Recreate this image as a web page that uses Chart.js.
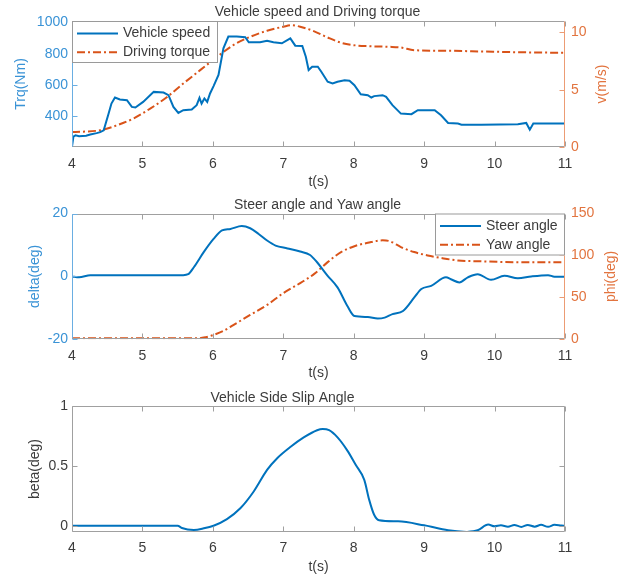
<!DOCTYPE html>
<html>
<head>
<meta charset="utf-8">
<script src="https://cdn.jsdelivr.net/npm/chart.js@4"></script>
<style>
  body { margin: 0; background: #fff; width: 635px; height: 578px; overflow: hidden; position: relative; }
  canvas { position: absolute; left: 0; }
</style>
</head>
<body>
<canvas id="c1" width="635" height="192" style="top:0"></canvas>
<canvas id="c2" width="635" height="192" style="top:192px"></canvas>
<canvas id="c3" width="635" height="194" style="top:384px"></canvas>
<script>
// ──────── DATA ────────
const xTicks = [4, 5, 6, 7, 8, 9, 10, 11];

// panel 1: Vehicle speed (left, Trq) and Driving torque (right, v)
const speedT = [4.0,4.02,4.05,4.1,4.2,4.26,4.35,4.4,4.45,4.52,4.56,4.61,4.68,4.78,4.85,4.9,
  5.01,5.16,5.3,5.37,5.44,5.51,5.58,5.7,5.77,5.81,5.84,5.88,5.92,5.96,
  6.01,6.08,6.15,6.22,6.34,6.46,6.51,6.67,6.77,6.86,6.98,
  7.1,7.17,7.27,7.32,7.36,7.41,7.49,7.54,7.63,7.7,7.77,7.87,7.94,
  8.01,8.1,8.2,8.25,8.29,8.41,8.46,8.55,8.67,8.82,8.91,
  9.15,9.24,9.34,9.48,9.53,9.81,10.33,10.45,10.5,10.55,11.0];
const speedV = [205,270,278,272,275,283,292,298,310,417,481,520,507,503,460,456,
  492,556,552,535,460,421,439,443,471,518,481,514,492,546,
  593,664,835,910,910,906,874,874,884,874,867,
  899,852,850,781,696,717,717,685,621,610,621,631,627,
  599,541,535,520,529,535,524,471,417,413,439,
  439,406,357,353,346,346,349,357,314,353,353];
const torqueT = [4.0,4.4,4.64,4.87,5.11,5.35,5.58,5.82,6.06,6.29,6.53,6.77,7.0,7.12,7.24,7.44,
  7.63,7.82,8.0,8.2,8.5,8.67,8.86,9.34,9.81,10.28,11.0];
const torqueV = [1.31,1.46,1.9,2.48,3.35,4.37,5.54,6.71,7.87,8.89,9.62,10.15,10.5,10.64,10.5,10.1,
  9.56,9.1,8.89,8.8,8.75,8.69,8.45,8.4,8.34,8.28,8.22];
const trqTicks = [400, 600, 800, 1000];
const velTicks = [0, 5, 10];

// panel 2: Steer angle (left) and Yaw angle (right)
const steerT = [4.0,4.1,4.26,5.58,5.65,5.73,5.87,6.01,6.13,6.25,6.41,6.53,6.65,6.77,6.89,
  7.06,7.24,7.38,7.44,7.48,7.63,7.77,7.91,8.01,8.2,8.34,8.44,8.55,8.7,8.86,8.96,
  9.1,9.31,9.38,9.5,9.62,9.76,9.95,10.14,10.33,10.52,10.76,10.85,11.0];
const steerV = [0,-0.3,0.4,0.4,0.7,2.9,7.7,11.9,14.6,15.1,16.0,15.3,13.5,11.4,9.8,
  8.9,7.9,6.8,5.5,4.5,0.2,-3.5,-9.4,-12.6,-12.9,-13.4,-13.1,-12.0,-11,-6.7,-4.0,
  -3.0,-0.3,-0.9,-1.9,-0.3,0.7,-1.1,0.2,-0.6,0,0.4,-0.1,-0.1];
const yawT = [4.0,5.8,5.9,6.01,6.15,6.29,6.53,6.77,7.0,7.24,7.44,7.63,7.82,8.01,8.2,8.41,8.51,
  8.67,8.86,9.05,9.24,9.48,9.81,10.28,11.0];
const yawV = [1.2,1.2,2.5,5.2,10,17,29,41,55,67,78,92,104,111,115,118,117,
  110,104,100,97,94,93,92,92];
const deltaTicks = [-20, 0, 20];
const phiTicks = [0, 50, 100, 150];

// panel 3: Vehicle side slip angle
const betaT = [4.0,5.5,5.56,5.73,5.87,6.01,6.2,6.39,6.58,6.77,6.91,7.1,7.29,7.48,7.56,7.65,7.77,7.91,
  8.03,8.15,8.22,8.29,8.36,8.63,9.0,9.34,9.6,9.76,9.91,
  10.0,10.09,10.19,10.28,10.38,10.47,10.57,10.66,10.76,10.85,10.95,11.0];
const betaV = [0.005,0.005,-0.014,-0.03,-0.017,0.005,0.06,0.15,0.29,0.47,0.565,0.66,0.74,0.8,0.81,0.8,0.74,0.63,
  0.51,0.386,0.22,0.096,0.05,0.041,0.008,-0.033,-0.047,-0.033,0.014,
  0.0,0.008,-0.003,0.011,-0.005,0.011,-0.003,0.012,-0.004,0.012,0.006,0.004];
const betaTicks = [0, 0.5, 1];

// ──────── STYLE ────────
const BLUE = "#0072BD", ORANGE = "#D95319";
const BLUE_TXT = "#3a93d6", ORANGE_TXT = "#e2743f";
const BLUE_AX = "#6aaee2", ORANGE_AX = "#ec9c74";
const GRAY_AX = "#a0a0a0", TXT = "#3c3c3c";
const FONT = "'Liberation Sans', Arial, sans-serif";
const DASHDOT = [8, 3, 2, 3];

Chart.defaults.font.family = FONT;
Chart.defaults.font.size = 14;

const pts = (t, v) => t.map((x, i) => ({ x, y: v[i] }));
const fixTicks = list => scale => { scale.ticks = list.map(v => ({ value: v })); };

// ──────── AXES, TICKS, LEGEND (MATLAB look) ────────
const matlabAxes = {
  id: "matlabAxes",
  afterDraw(chart, args, o) {
    const { ctx } = chart;
    const { left, right, top, bottom } = chart.chartArea;
    const L = Math.round(left) + 0.5, R = Math.round(right) - 0.5;
    const T = Math.round(top) + 0.5, B = Math.round(bottom) - 0.5;
    const tick = 5;
    ctx.save();
    ctx.lineWidth = 1;

    // top / bottom border + x ticks
    ctx.strokeStyle = GRAY_AX;
    ctx.beginPath();
    ctx.moveTo(L, T); ctx.lineTo(R, T);
    ctx.moveTo(L, B); ctx.lineTo(R, B);
    const xs = chart.scales.x;
    xs.ticks.forEach(t => {
      const px = Math.round(xs.getPixelForValue(t.value)) + 0.5;
      ctx.moveTo(px, B); ctx.lineTo(px, B - tick);
      ctx.moveTo(px, T); ctx.lineTo(px, T + tick);
    });
    ctx.stroke();

    // left / right axis with inward ticks
    const side = (x, dir, color, scale) => {
      ctx.strokeStyle = color;
      ctx.beginPath();
      ctx.moveTo(x, T); ctx.lineTo(x, B);
      scale.ticks.forEach(t => {
        const py = Math.round(scale.getPixelForValue(t.value)) + 0.5;
        ctx.moveTo(x, py); ctx.lineTo(x + dir * tick, py);
      });
      ctx.stroke();
    };
    side(L, 1, o.leftColor, chart.scales.y);
    side(R, -1, o.rightColor, chart.scales[o.rightScale]);

    // right axis title, reading bottom-to-top
    if (o.rightTitle) {
      ctx.fillStyle = o.rightTitle.color;
      ctx.font = "14px " + FONT;
      ctx.textAlign = "center";
      ctx.textBaseline = "middle";
      ctx.translate(o.rightTitle.x, (top + bottom) / 2);
      ctx.rotate(-Math.PI / 2);
      ctx.fillText(o.rightTitle.text, 0, 0);
      ctx.setTransform(1, 0, 0, 1, 0, 0);
    }

    // legend box
    if (o.legend) {
      const lg = o.legend;
      ctx.fillStyle = "#fff";
      ctx.fillRect(lg.x, lg.y, lg.w, lg.h);
      ctx.strokeStyle = "#9a9a9a";
      ctx.strokeRect(lg.x + 0.5, lg.y + 0.5, lg.w - 1, lg.h - 1);
      ctx.font = "14px " + FONT;
      ctx.textAlign = "left";
      ctx.textBaseline = "middle";
      lg.items.forEach((it, i) => {
        const y = lg.y + 12.5 + i * 18.7;
        ctx.strokeStyle = it.color;
        ctx.lineWidth = 2;
        ctx.setLineDash(it.dash || []);
        ctx.beginPath();
        ctx.moveTo(lg.x + 5, y); ctx.lineTo(lg.x + 46, y);
        ctx.stroke();
        ctx.setLineDash([]);
        ctx.fillStyle = TXT;
        ctx.fillText(it.label, lg.x + 51, y);
      });
    }
    ctx.restore();
  }
};

// ──────── PANEL BUILDER ────────
const xScale = (h, titlePad) => ({
  type: "linear", min: 4, max: 11,
  afterBuildTicks: fixTicks(xTicks),
  afterFit: s => { s.height = h; },
  grid: { display: false, drawTicks: false },
  border: { display: false },
  ticks: { color: TXT, padding: 8.5, callback: v => String(v) },
  title: { display: true, text: "t(s)", color: TXT, padding: { top: 0, bottom: titlePad } }
});

const yScale = (opts) => ({
  type: "linear", position: opts.position, min: opts.min, max: opts.max,
  afterBuildTicks: fixTicks(opts.ticks),
  afterFit: s => { s.width = opts.width; },
  grid: { display: false, drawTicks: false },
  border: { display: false },
  ticks: { color: opts.color, padding: opts.pad, callback: v => String(v) },
  title: opts.title ? { display: true, text: opts.title, color: opts.color, padding: { top: opts.titlePad, bottom: 0 } } : { display: false }
});

const line = (label, t, v, color, axis, opts = {}) => ({
  label, data: pts(t, v), yAxisID: axis,
  borderColor: color, borderWidth: 2, pointRadius: 0,
  borderDash: opts.dash || [], tension: 0,
  cubicInterpolationMode: opts.smooth ? "monotone" : "default"
});

const baseOptions = (title, titlePad) => ({
  responsive: false, animation: false, devicePixelRatio: 1,
  layout: { padding: 0 },
  plugins: {
    legend: { display: false },
    tooltip: { enabled: false },
    title: { display: true, text: title, color: TXT, font: { size: 14, weight: "normal" }, padding: titlePad }
  }
});

// ──────── PANEL 1 ────────
{
  const options = baseOptions("Vehicle speed and Driving torque", { top: 4.2, bottom: 0 });
  options.scales = {
    x: xScale(45, 1.2),
    y: yScale({ position: "left", min: 203, max: 1010, ticks: trqTicks, width: 72, color: BLUE_TXT, pad: 4, title: "Trq(Nm)", titlePad: 12.6 }),
    y1: yScale({ position: "right", min: 0, max: 11, ticks: velTicks, width: 70, color: ORANGE_TXT, pad: 6 })
  };
  options.plugins.matlabAxes = {
    leftColor: BLUE_AX, rightColor: ORANGE_AX, rightScale: "y1",
    rightTitle: { text: "v(m/s)", color: ORANGE_TXT, x: 602.3 },
    legend: { x: 72, y: 21, w: 146, h: 42, items: [
      { label: "Vehicle speed", color: BLUE },
      { label: "Driving torque", color: ORANGE, dash: DASHDOT }
    ] }
  };
  new Chart(document.getElementById("c1"), {
    type: "line",
    data: { datasets: [
      line("Vehicle speed", speedT, speedV, BLUE, "y"),
      line("Driving torque", torqueT, torqueV, ORANGE, "y1", { dash: DASHDOT, smooth: true })
    ] },
    options,
    plugins: [matlabAxes]
  });
}

// ──────── PANEL 2 ────────
{
  const options = baseOptions("Steer angle and Yaw angle", { top: 4.5, bottom: 0.2 });
  options.scales = {
    x: xScale(44.7, 2.2),
    y: yScale({ position: "left", min: -20, max: 20, ticks: deltaTicks, width: 72, color: BLUE_TXT, pad: 4, title: "delta(deg)", titlePad: 26.6 }),
    y1: yScale({ position: "right", min: 0, max: 150, ticks: phiTicks, width: 70, color: ORANGE_TXT, pad: 6 })
  };
  options.plugins.matlabAxes = {
    leftColor: BLUE_AX, rightColor: ORANGE_AX, rightScale: "y1",
    rightTitle: { text: "phi(deg)", color: ORANGE_TXT, x: 610.7 },
    legend: { x: 435, y: 21.5, w: 130, h: 42, items: [
      { label: "Steer angle", color: BLUE },
      { label: "Yaw angle", color: ORANGE, dash: DASHDOT }
    ] }
  };
  new Chart(document.getElementById("c2"), {
    type: "line",
    data: { datasets: [
      line("Steer angle", steerT, steerV, BLUE, "y", { smooth: true }),
      line("Yaw angle", yawT, yawV, ORANGE, "y1", { dash: DASHDOT, smooth: true })
    ] },
    options,
    plugins: [matlabAxes]
  });
}

// ──────── PANEL 3 ────────
{
  const options = baseOptions("Vehicle Side Slip Angle", { top: 5.4, bottom: 0 });
  options.layout = { padding: { right: 70 } };
  options.scales = {
    x: xScale(46.3, 2.5),
    y: yScale({ position: "left", min: -0.045, max: 1, ticks: betaTicks, width: 72, color: TXT, pad: 4, title: "beta(deg)", titlePad: 26.6 })
  };
  options.plugins.matlabAxes = { leftColor: GRAY_AX, rightColor: GRAY_AX, rightScale: "y" };
  new Chart(document.getElementById("c3"), {
    type: "line",
    data: { datasets: [
      line("beta", betaT, betaV, BLUE, "y", { smooth: true })
    ] },
    options,
    plugins: [matlabAxes]
  });
}
</script>
</body>
</html>
